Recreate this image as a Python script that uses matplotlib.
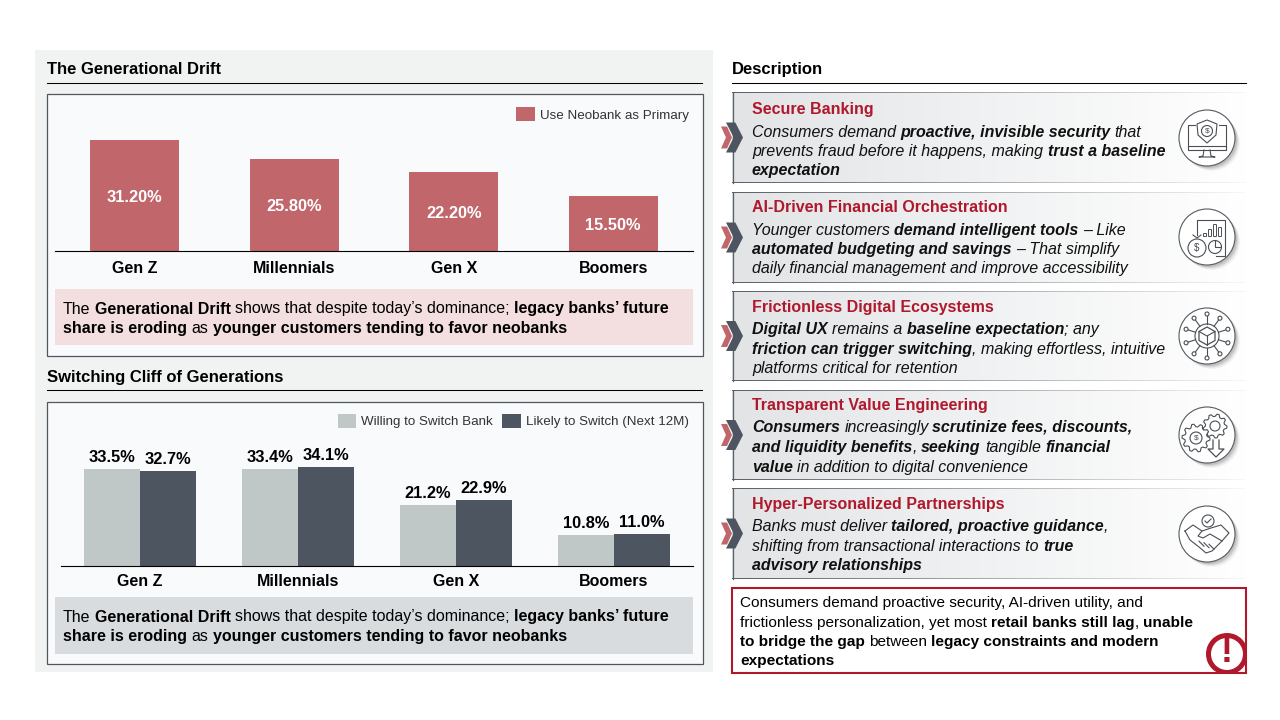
"""Neobank generations slide: two bar charts on the left, description cards on the right."""

import numpy as np
import matplotlib
matplotlib.use("Agg")
from matplotlib import pyplot as plt
from matplotlib.font_manager import FontProperties
from matplotlib.patches import Circle, Rectangle, Polygon, Wedge, FancyBboxPatch

plt.rcParams["font.family"] = ["Liberation Sans", "DejaVu Sans"]

generations = ["Gen Z", "Millennials", "Gen X", "Boomers"]
neobank_primary = [31.2, 25.8, 22.2, 15.5]
willing_to_switch = [33.5, 33.4, 21.2, 10.8]
likely_to_switch = [32.7, 34.1, 22.9, 11.0]

series_primary = "Use Neobank as Primary"
series_willing = "Willing to Switch Bank"
series_likely = "Likely to Switch (Next 12M)"

note_lines = [
    [("The ", "r"), ("Generational Drift", "b"), (" shows that despite today\u2019s dominance; ", "r"),
     ("legacy banks\u2019 future", "b")],
    [("share is eroding", "b"), (" as ", "r"), ("younger customers tending to favor neobanks", "b")],
]

card_titles = [
    "Secure Banking",
    "AI-Driven Financial Orchestration",
    "Frictionless Digital Ecosystems",
    "Transparent Value Engineering",
    "Hyper-Personalized Partnerships",
]
card_lines = [
    [[("Consumers demand ", "i"), ("proactive, invisible security", "bi"), (" that", "i")],
     [("prevents fraud before it happens, making ", "i"), ("trust a baseline", "bi")],
     [("expectation", "bi")]],
    [[("Younger customers ", "i"), ("demand intelligent tools", "bi"), (" \u2013 Like", "i")],
     [("automated budgeting and savings", "bi"), (" \u2013 That simplify", "i")],
     [("daily financial management and improve accessibility", "i")]],
    [[("Digital UX", "bi"), (" remains a ", "i"), ("baseline expectation", "bi"), ("; any", "i")],
     [("friction can trigger switching", "bi"), (", making effortless, intuitive", "i")],
     [("platforms critical for retention", "i")]],
    [[("Consumers", "bi"), (" increasingly ", "i"), ("scrutinize fees, discounts,", "bi")],
     [("and liquidity benefits", "bi"), (", ", "i"), ("seeking", "bi"), (" tangible ", "i"), ("financial", "bi")],
     [("value", "bi"), (" in addition to digital convenience", "i")]],
    [[("Banks must deliver ", "i"), ("tailored, proactive guidance", "bi"), (",", "i")],
     [("shifting from transactional interactions to ", "i"), ("true", "bi")],
     [("advisory relationships", "bi")]],
]
summary_lines = [
    [("Consumers demand proactive security, AI-driven utility, and", "r")],
    [("frictionless personalization, yet most ", "r"), ("retail banks still lag", "b"), (", ", "r"), ("unable", "b")],
    [("to bridge the gap", "b"), (" between ", "r"), ("legacy constraints and modern", "b")],
    [("expectations", "b")],
]

RED_BAR = "#c1666b"
LIGHT_BAR = "#bfc7c7"
DARK_BAR = "#4d5660"
CARD_RED = "#b0182c"
ICON = "#4a4f55"
STYLES = {"r": ("normal", "normal"), "b": ("bold", "normal"), "i": ("normal", "italic"), "bi": ("bold", "italic")}

fig = plt.figure(figsize=(12.8, 7.2), dpi=100, facecolor="white")
page = fig.add_axes([0, 0, 1, 1])
page.set_xlim(0, 1280)
page.set_ylim(720, 0)
page.axis("off")
renderer = fig.canvas.get_renderer()


def text_width(s, size, style):
    weight, slant = STYLES[style]
    prop = FontProperties(family="Liberation Sans", size=size, weight=weight, style=slant)
    w = renderer.get_text_width_height_descent("." + s + ".", prop, False)[0]
    return w - renderer.get_text_width_height_descent("..", prop, False)[0]


def draw_runs(x, y, runs, size, color="black"):
    """Write one line of mixed regular/bold/italic runs with its baseline at y."""
    for run, style in runs:
        weight, slant = STYLES[style]
        lead = len(run) - len(run.lstrip())
        trail = len(run) - len(run.rstrip())
        x += lead * text_width(" ", size, style)
        if run.strip():
            page.text(x, y, run.strip(), fontsize=size, fontweight=weight, fontstyle=slant,
                      color=color, va="baseline", ha="left")
            x += text_width(run.strip(), size, style)
        x += trail * text_width(" ", size, style)


def rect(x0, y0, x1, y1, **kw):
    page.add_patch(Rectangle((x0, y0), x1 - x0, y1 - y0, **kw))


def chart_axes(left, right, top, bottom, pad):
    ax = fig.add_axes([left / 1280, 1 - bottom / 720, (right - left) / 1280, (bottom - top) / 720])
    ax.patch.set_alpha(0)
    for side in ["top", "left", "right"]:
        ax.spines[side].set_visible(False)
    ax.spines["bottom"].set_linewidth(0.8)
    ax.set_yticks([])
    ax.set_xlim(-0.5, 3.5)
    ax.tick_params(axis="x", length=0, pad=pad)
    ax.set_xticks(range(len(generations)))
    ax.set_xticklabels(generations, fontsize=11.5, fontweight="bold")
    return ax


# left panel
rect(35, 50, 713, 672, fc="#f1f3f2", ec="none")
page.text(47, 74, "The Generational Drift", fontsize=12, fontweight="bold", va="baseline")
page.plot([47, 702], [83, 83], color="black", lw=0.75)
page.text(47, 382, "Switching Cliff of Generations", fontsize=12, fontweight="bold", va="baseline")
page.plot([47, 702], [390, 390], color="black", lw=0.75)
rect(46.5, 93.5, 702.5, 355.5, fc="#f9fafc", ec="#50565c", lw=0.9)
rect(46.5, 401.5, 702.5, 663.5, fc="#f9fafc", ec="#50565c", lw=0.9)

# top chart
ax1 = chart_axes(55, 693, 130, 251, 7)
ax1.set_ylim(0, 34)
x1 = np.arange(len(generations))
bars1 = ax1.bar(x1, neobank_primary, width=0.555, color=RED_BAR)
labels1 = ax1.bar_label(bars1, labels=[f"{v:.2f}%" for v in neobank_primary], label_type="center",
                        color="white", fontsize=11.8, fontweight="bold")
for lab in labels1:
    lab.xyann = (0, -1.2)

rect(516, 107, 535, 121, fc=RED_BAR, ec="none")
page.text(540, 115.5, series_primary, fontsize=9.6, color="#333333", va="center")

rect(55, 289, 693, 345, fc="#f3dfdf", ec="none")
for i, runs in enumerate(note_lines):
    draw_runs(63, 313.5 + i * 19.7, runs, 11.5)

# bottom chart
ax2 = chart_axes(61, 693, 440, 566, 5.5)
ax2.set_ylim(0, 126 / 2.89)
x2 = np.arange(len(generations))
bar_w = 0.355
bars2a = ax2.bar(x2 - bar_w / 2, willing_to_switch, width=bar_w, color=LIGHT_BAR)
bars2b = ax2.bar(x2 + bar_w / 2, likely_to_switch, width=bar_w, color=DARK_BAR)
for bars, vals in [(bars2a, willing_to_switch), (bars2b, likely_to_switch)]:
    ax2.bar_label(bars, labels=[f"{v:.1f}%" for v in vals], padding=3, fontsize=11.8, fontweight="bold")

rect(338, 414, 356, 428, fc=LIGHT_BAR, ec="none")
page.text(361, 421.5, series_willing, fontsize=9.6, color="#333333", va="center")
rect(502, 414, 521, 428, fc=DARK_BAR, ec="none")
page.text(526, 421.5, series_likely, fontsize=9.6, color="#333333", va="center")

rect(55, 597, 693, 654, fc="#d8dcdf", ec="none")
for i, runs in enumerate(note_lines):
    draw_runs(63, 621.5 + i * 19.7, runs, 11.5)

# right column
page.text(732, 74, "Description", fontsize=12, fontweight="bold", va="baseline")
page.plot([732, 1246], [83, 83], color="black", lw=0.75)


def gradient(x0, y0, x1, y1, c0, c1):
    ramp = np.linspace(0, 1, 256)[:, None]
    rgb = np.array(matplotlib.colors.to_rgb(c0))[None, :] * (1 - ramp) + np.array(matplotlib.colors.to_rgb(c1))[None, :] * ramp
    page.imshow(rgb[None, :, :], extent=(x0, x1, y1, y0), aspect="auto", zorder=1, interpolation="bilinear")


def chevron(x, cy, w, h, color, zorder):
    tip = w * 0.45
    page.add_patch(Polygon([(x, cy - h), (x + w - tip, cy - h), (x + w, cy), (x + w - tip, cy + h), (x, cy + h),
                            (x + tip, cy)], closed=True, fc=color, ec="none", zorder=zorder))


def icon_monitor(cx, cy):
    kw = dict(color=ICON, lw=0.8, zorder=5)
    page.plot([cx - 12, cx - 19, cx - 19, cx + 19, cx + 19, cx + 12],
              [cy - 13, cy - 13, cy + 12, cy + 12, cy - 13, cy - 13], **kw)
    page.plot([cx - 19, cx + 19], [cy + 8, cy + 8], **kw)
    page.plot([cx - 3, cx - 4, cx - 8, cx + 8, cx + 4, cx + 3], [cy + 12, cy + 18, cy + 19, cy + 19, cy + 18, cy + 12], **kw)
    page.add_patch(Polygon([(cx, cy - 18), (cx + 10, cy - 14), (cx + 9, cy - 3), (cx, cy + 5), (cx - 9, cy - 3),
                            (cx - 10, cy - 14)], closed=True, fc="none", ec=ICON, lw=0.8, zorder=5))
    page.add_patch(Circle((cx, cy - 7), 5.5, fc="none", ec=ICON, lw=0.8, zorder=5))
    page.text(cx, cy - 7, "$", fontsize=6, ha="center", va="center", color=ICON, zorder=5)


def icon_money(cx, cy):
    page.plot([cx - 10, cx - 10, cx + 18, cx + 18, cx + 9], [cy - 2, cy - 17, cy - 17, cy + 19, cy + 19],
              color=ICON, lw=0.8, zorder=5)
    for dx, top in zip([-2, 3, 8, 13], [-3, -7, -12, -9]):
        page.add_patch(FancyBboxPatch((cx + dx - 1, cy + top), 2, -top - 1, boxstyle="round,pad=0.5", fc="none", ec=ICON,
                                      lw=0.7, zorder=5))
    page.add_patch(Circle((cx + 8, cy + 10), 6.5, fc="none", ec=ICON, lw=0.8, zorder=5))
    page.plot([cx + 8, cx + 8, cx + 14], [cy + 4, cy + 10, cy + 10], color=ICON, lw=0.8, zorder=5)
    page.add_patch(Circle((cx - 10, cy + 11), 9, fc="white", ec=ICON, lw=0.8, zorder=5))
    page.plot([cx - 14, cx - 10, cx - 6], [cy - 2, cy + 1, cy - 2], color=ICON, lw=0.8, zorder=5)
    page.text(cx - 10, cy + 11, "$", fontsize=7, ha="center", va="center", color=ICON, zorder=5)


def icon_circuit(cx, cy):
    page.add_patch(Polygon([(cx, cy - 9), (cx + 8, cy - 4.5), (cx + 8, cy + 4.5), (cx, cy + 9), (cx - 8, cy + 4.5),
                            (cx - 8, cy - 4.5)], closed=True, fc="none", ec=ICON, lw=0.9, zorder=5))
    page.plot([cx - 8, cx, cx + 8], [cy - 4.5, cy, cy - 4.5], color=ICON, lw=0.8, zorder=5)
    page.plot([cx, cx], [cy, cy + 9], color=ICON, lw=0.8, zorder=5)
    page.add_patch(Circle((cx, cy), 12, fc="none", ec=ICON, lw=0.8, zorder=5))
    for a in np.radians(np.arange(0, 360, 36) + 18):
        ca, sa = np.cos(a), np.sin(a)
        page.plot([cx + 12 * ca, cx + 20 * ca], [cy + 12 * sa, cy + 20 * sa], color=ICON, lw=0.8, zorder=5)
        page.add_patch(Circle((cx + 22 * ca, cy + 22 * sa), 2, fc="white", ec=ICON, lw=0.8, zorder=5))


def gear(cx, cy, r, teeth):
    a = np.linspace(0, 2 * np.pi, teeth * 4, endpoint=False)
    rad = np.where(np.arange(teeth * 4) % 4 < 2, r, r * 0.8)
    page.add_patch(Polygon(np.c_[cx + rad * np.cos(a), cy + rad * np.sin(a)], closed=True, fc="white", ec=ICON,
                           lw=0.8, zorder=5))


def icon_gears(cx, cy):
    gear(cx + 8, cy - 9, 12, 9)
    page.add_patch(Circle((cx + 8, cy - 9), 5, fc="none", ec=ICON, lw=0.8, zorder=6))
    gear(cx - 11, cy + 3, 14, 10)
    page.add_patch(Circle((cx - 11, cy + 3), 6, fc="none", ec=ICON, lw=0.8, zorder=6))
    page.text(cx - 11, cy + 3, "$", fontsize=6, ha="center", va="center", color=ICON, zorder=6)
    page.plot([cx + 6, cx + 6, cx + 1, cx + 9, cx + 17, cx + 12, cx + 12],
              [cy + 5, cy + 14, cy + 14, cy + 22, cy + 14, cy + 14, cy + 5], color=ICON, lw=0.9, zorder=6)


def icon_handshake(cx, cy):
    page.add_patch(Circle((cx + 1, cy - 13), 6, fc="none", ec=ICON, lw=0.8, zorder=5))
    page.plot([cx - 2, cx, cx + 4], [cy - 13, cy - 11, cy - 15], color=ICON, lw=0.8, zorder=5)
    page.plot([cx - 22, cx - 14, cx - 5, cx + 4, cx + 14, cx + 22, cx + 15, cx + 5, cx - 1, cx - 8, cx - 17, cx - 22],
              [cy - 3, cy - 9, cy - 3, cy - 6, cy - 9, cy - 1, cy + 7, cy + 17, cy + 19, cy + 13, cy + 6, cy - 3],
              color=ICON, lw=0.8, zorder=5)
    page.plot([cx - 5, cx - 9, cx - 4, cx + 3, cx + 15], [cy - 3, cy + 2, cy + 4, cy, cy + 7], color=ICON, lw=0.8, zorder=5)
    for d in [-6, -1, 4]:
        page.plot([cx + d - 2, cx + d + 3], [cy + 9 + d * 0.3, cy + 14 + d * 0.3], color=ICON, lw=0.8, zorder=5)


icons = [icon_monitor, icon_money, icon_circuit, icon_gears, icon_handshake]
card_tops = [93, 193, 292, 391, 489]
card_bottoms = [183, 283, 381, 480, 579]
title_y = [114, 212, 312, 410, 509]
line_y = [[137, 156, 175], [235, 254, 273], [334, 354, 373], [432, 452, 472], [531, 551, 570]]
icon_y = [138, 237, 336, 435, 534]
page.set_autoscale_on(False)

for k, title in enumerate(card_titles):
    top, bottom = card_tops[k], card_bottoms[k]
    gradient(732, top, 1246, bottom, "#e2e4e6", "#ffffff")
    gradient(732, top - 0.5, 1246, top + 0.5, "#596068", "#f7f7f8")
    gradient(732, bottom - 0.5, 1246, bottom + 0.5, "#596068", "#f7f7f8")
    page.plot([732.5, 732.5], [top, bottom], color="#596068", lw=0.9, zorder=2)
    cy = (top + bottom) / 2 - 0.5
    chevron(721, cy, 11, 11, "#c1666b", 3)
    chevron(726, cy, 17, 15, "#4d5660", 4)
    page.text(752, title_y[k], title, fontsize=11.5, fontweight="bold", color=CARD_RED, va="baseline")
    for runs, y in zip(card_lines[k], line_y[k]):
        draw_runs(752, y, runs, 11.5, color="#111111")
    cx = 1207
    for off, alpha in [(5, 0.05), (4, 0.08), (3, 0.12), (2, 0.16)]:
        page.add_patch(Circle((cx + off, icon_y[k] + off), 28, fc="#555555", ec="none", alpha=alpha, zorder=3))
    page.add_patch(Circle((cx, icon_y[k]), 28, fc="white", ec="#555a60", lw=0.8, zorder=4))
    icons[k](cx, icon_y[k])

# summary box
box = Rectangle((731.5, 587.5), 514.5, 85.5, fc="white", ec=CARD_RED, lw=1.5, zorder=2)
page.add_patch(box)
for i, runs in enumerate(summary_lines):
    draw_runs(740, 607.5 + i * 19.1, runs, 11.1)
ring = Wedge((1227, 654), 21, 0, 360, width=5, fc=CARD_RED, ec="none", zorder=3)
page.add_patch(ring)
ring.set_clip_path(box)
bang = page.text(1227, 652, "!", fontsize=26, fontweight="bold", color=CARD_RED, ha="center", va="center", zorder=3)
bang.set_clip_path(box)

page.set_xlim(0, 1280)
page.set_ylim(720, 0)
fig.savefig("out.png", dpi=100)
